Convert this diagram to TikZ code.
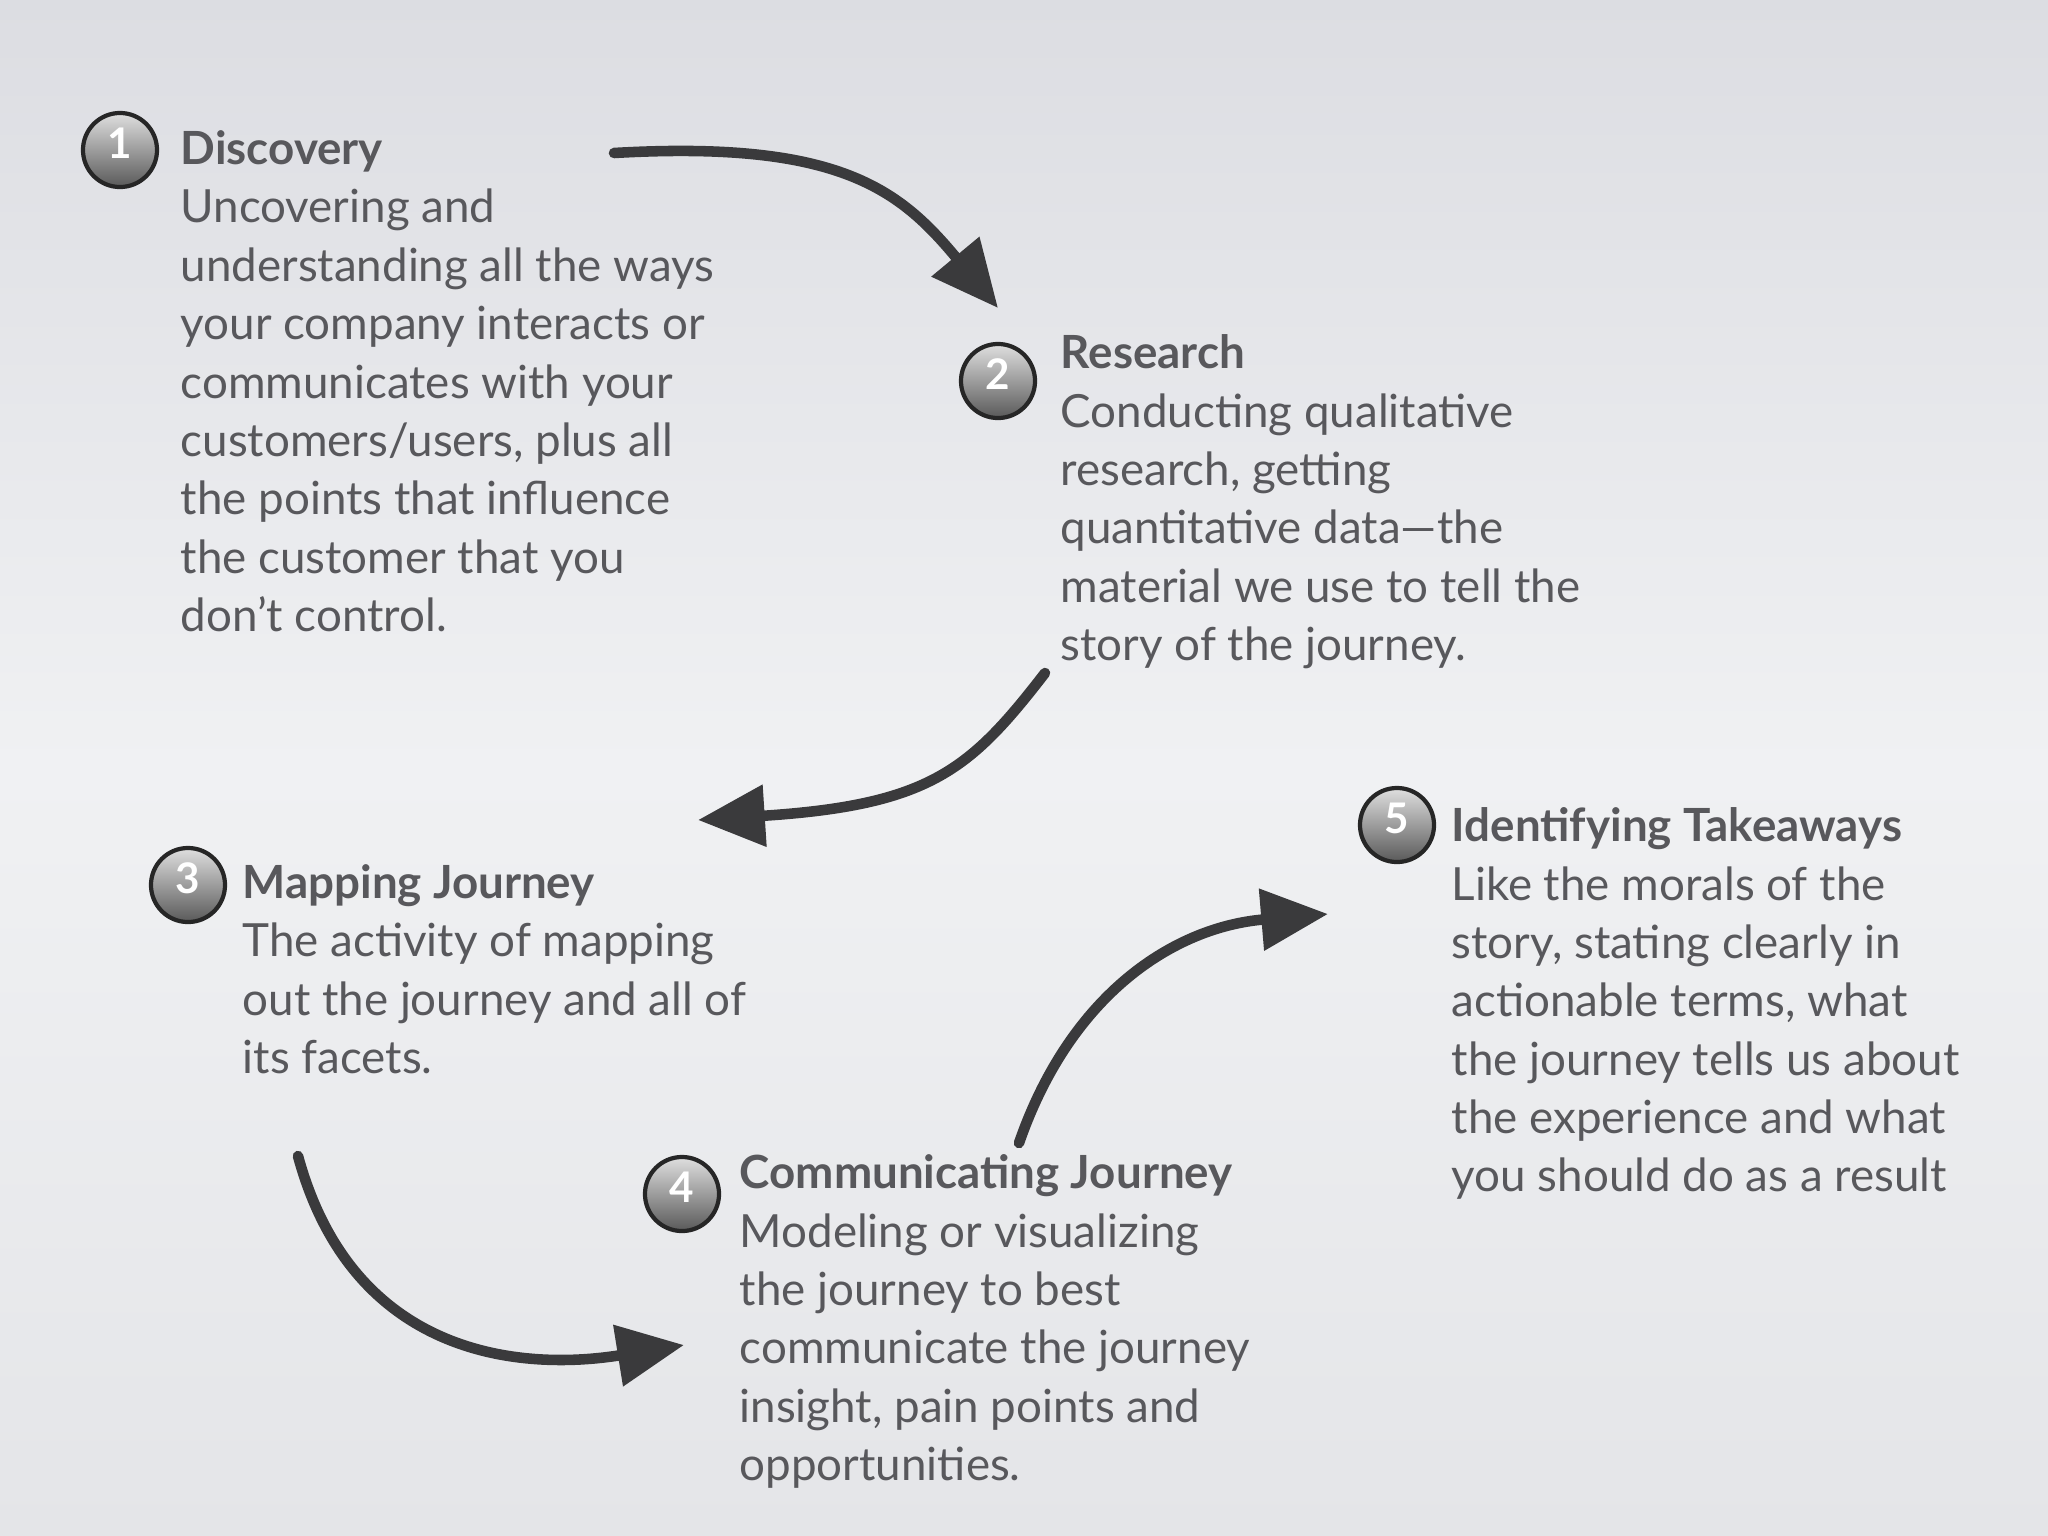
\documentclass[tikz,border=0pt]{standalone}
\usepackage{fontspec}
\setmainfont{Lato}
\usetikzlibrary{arrows.meta}
\definecolor{txt}{HTML}{58585c}
\definecolor{arr}{HTML}{3a3a3c}
\definecolor{bgtop}{HTML}{dcdde2}
\definecolor{bgmid}{HTML}{f0f1f3}
\definecolor{bgbot}{HTML}{e4e5e8}
\begin{document}
\begin{tikzpicture}[x=0.01cm,y=-0.01cm,
  ballnode/.style={circle,draw=black!85,line width=1.2pt,minimum size=0.74cm,inner sep=0,
    top color=gray!25!white,bottom color=black!65},
  numnode/.style={inner sep=0,font=\fontsize{12}{12}\selectfont\bfseries,text=white},
  textnode/.style={anchor=north west,inner sep=0,align=left,text=txt,
    font=\fontsize{13.0}{16.6}\selectfont},
  arrline/.style={draw=arr,line width=3pt,line cap=round,
    -{Triangle[width=17pt,length=19pt]}}]
\useasboundingbox (0,0) rectangle (2048,1536);
\shade[top color=bgtop,bottom color=bgbot,middle color=bgmid] (0,0) rectangle (2048,1536);
\foreach \n/\p in {1/{(120,150)},2/{(998,381)},3/{(188,885)},4/{(682,1194)},5/{(1397,825)}}{
  \node[ballnode] (c\n) at \p {};
  \node[numnode] (n\n) at ([yshift=2pt]c\n.center) {\n};
}
\node[textnode] (t1) at (180,130) {\textbf{Discovery}\\Uncovering and\\understanding all the ways\\your company interacts or\\communicates with your\\customers/users, plus all\\the points that influence\\the customer that you\\don’t control.};
\node[textnode] (t2) at (1060,334) {\textbf{Research}\\Conducting qualitative\\research, getting\\quantitative data—the\\material we use to tell the\\story of the journey.};
\node[textnode] (t3) at (242,864) {\textbf{Mapping Journey}\\The activity of mapping\\out the journey and all of\\its facets.};
\node[textnode] (t4) at (739,1154) {\textbf{Communicating Journey}\\Modeling or visualizing\\the journey to best\\communicate the journey\\insight, pain points and\\opportunities.};
\node[textnode] (t5) at (1451,807) {\textbf{Identifying Takeaways}\\Like the morals of the\\story, stating clearly in\\actionable terms, what\\the journey tells us about\\the experience and what\\you should do as a result};
\coordinate (a1s) at (614,153); \coordinate (a1e) at (998,308);
\coordinate (a2s) at (1045,673); \coordinate (a2e) at (698,820);
\coordinate (a3s) at (298,1156); \coordinate (a3e) at (684,1345);
\coordinate (a4s) at (1019,1143); \coordinate (a4e) at (1328,914);
\draw[arrline] (a1s) .. controls (840,140) and (900,190) .. (a1e);
\draw[arrline] (a2s) .. controls (970,770) and (930,805) .. (a2e);
\draw[arrline] (a3s) .. controls (353,1358) and (522,1371) .. (a3e);
\draw[arrline] (a4s) .. controls (1071,993) and (1175,927) .. (a4e);
\end{tikzpicture}
\end{document}
